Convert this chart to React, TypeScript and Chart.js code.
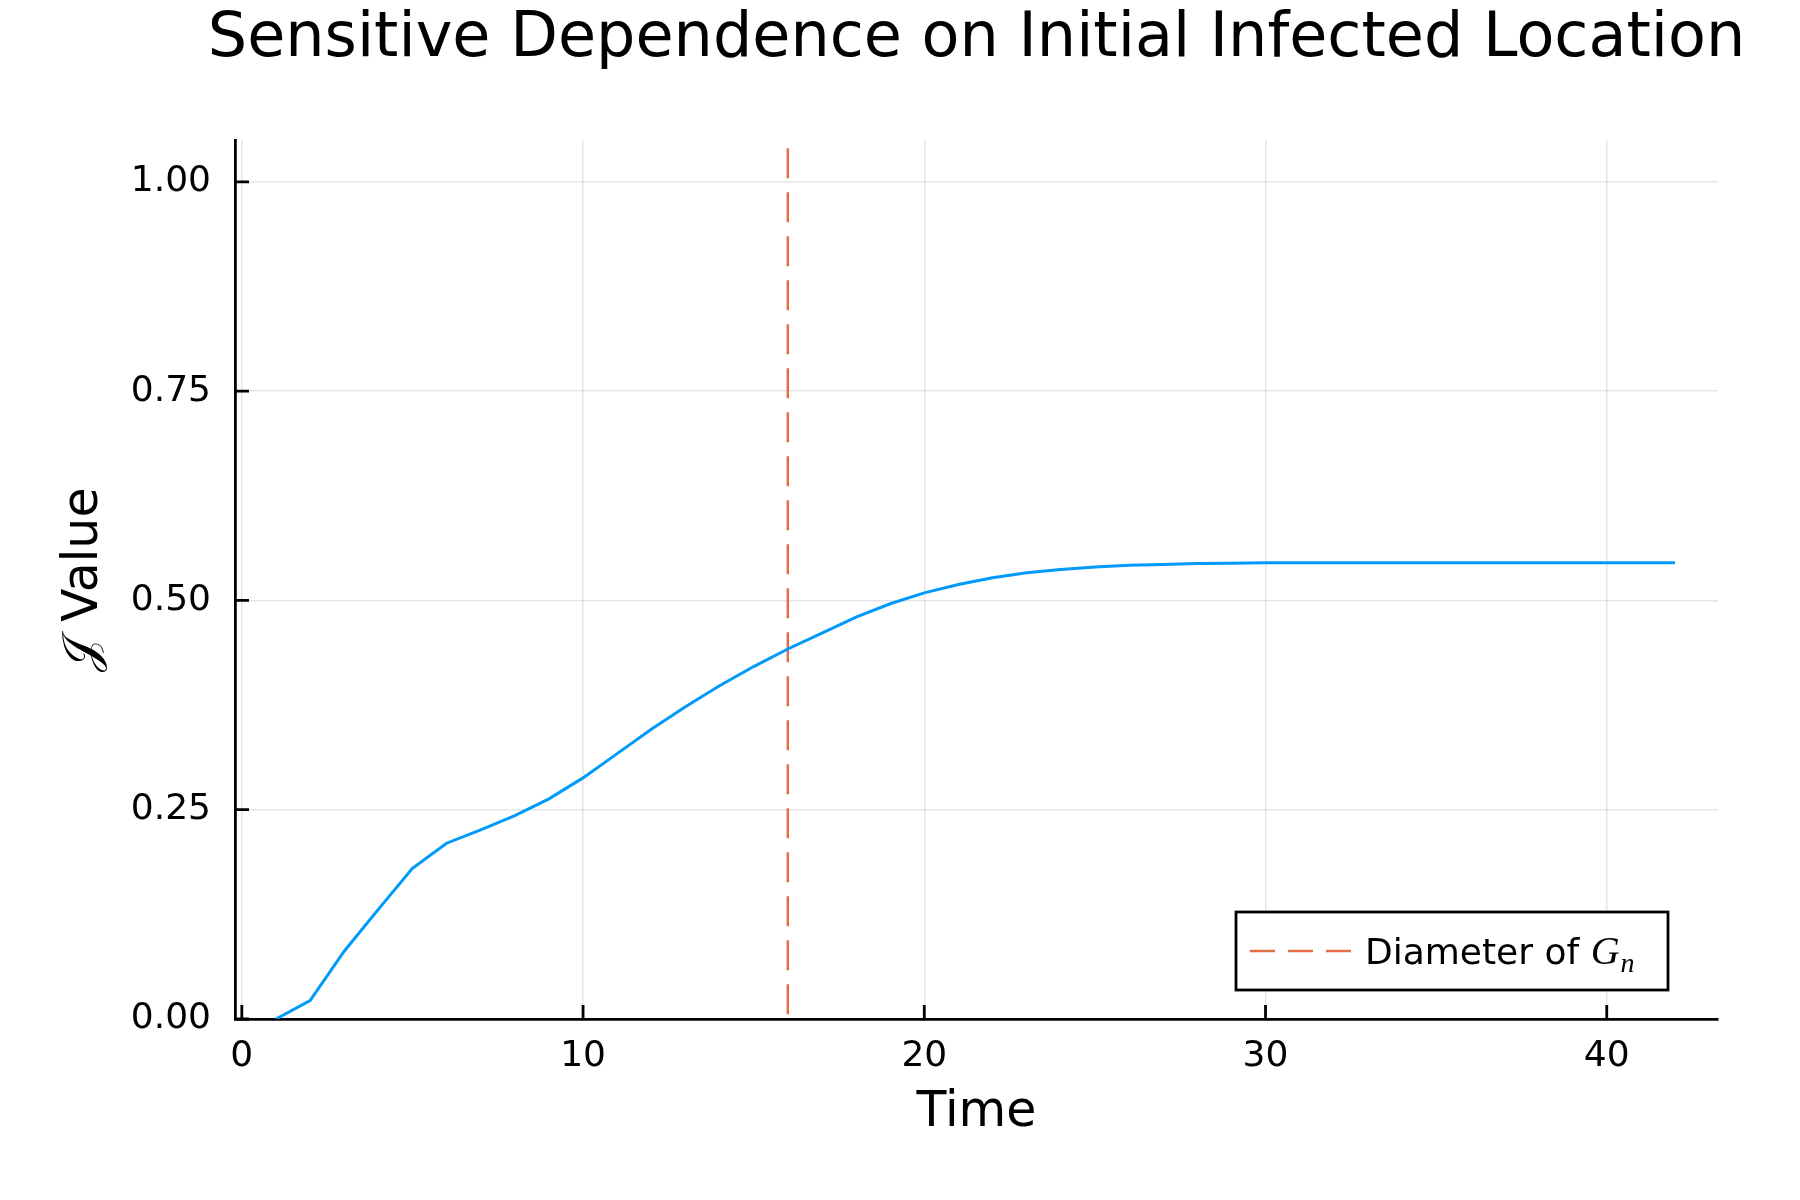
import React, { useEffect, useRef } from "react";
import { Chart, registerables } from "chart.js";

Chart.register(...registerables);

// ---- data ----
const timeSteps = [
  1, 2, 3, 4, 5, 6, 7, 8, 9, 10, 11, 12, 13, 14, 15, 16, 17, 18, 19, 20, 21,
  22, 23, 24, 25, 26, 27, 28, 29, 30, 31, 32, 33, 34, 35, 36, 37, 38, 39, 40,
  41, 42,
];
const jValues = [
  0.0, 0.022, 0.081, 0.131, 0.18, 0.21, 0.226, 0.243, 0.263, 0.288, 0.317,
  0.346, 0.373, 0.398, 0.421, 0.442, 0.461, 0.48, 0.496, 0.509, 0.519, 0.527,
  0.533, 0.537, 0.54, 0.542, 0.543, 0.544, 0.5445, 0.545, 0.545, 0.545, 0.545,
  0.545, 0.545, 0.545, 0.545, 0.545, 0.545, 0.545, 0.545, 0.545,
];
const diameterX = 16;
const diameterSpan = [1.04, 0];
const xTicks = [0, 10, 20, 30, 40];
const yTicks = [0, 0.25, 0.5, 0.75, 1.0];
const xRange = [-0.2, 43.26];
const yRange = [0, 1.05];

const titleText = "Sensitive Dependence on Initial Infected Location";
const xTitle = "Time";
const yTitle = "\u{1D4A5} Value";
const legendText = "Diameter of ";
const legendMath = "G";
const legendSub = "n";

const BLUE = "#009AFA";
const ORANGE = "#E26F46";
const FONT = '"DejaVu Sans", sans-serif';

const decorPlugin = {
  id: "decor",
  afterDraw(chart: any) {
    const { ctx, chartArea } = chart;
    const xs = chart.scales.x;
    const ys = chart.scales.y;
    ctx.save();
    // inward tick marks
    ctx.strokeStyle = "#000";
    ctx.lineWidth = 2.8;
    ctx.beginPath();
    xTicks.forEach((v) => {
      const px = xs.getPixelForValue(v);
      ctx.moveTo(px, chartArea.bottom);
      ctx.lineTo(px, chartArea.bottom - 14);
    });
    yTicks.forEach((v) => {
      const py = ys.getPixelForValue(v);
      ctx.moveTo(chartArea.left, py);
      ctx.lineTo(chartArea.left + 14, py);
    });
    ctx.stroke();

    // title
    ctx.fillStyle = "#000";
    ctx.font = `62px ${FONT}`;
    ctx.textAlign = "center";
    ctx.textBaseline = "alphabetic";
    ctx.fillText(titleText, (chartArea.left + chartArea.right) / 2, 56);

    // legend
    const bw = 432;
    const bh = 78;
    const bx = chartArea.right - 50 - bw;
    const by = chartArea.bottom - 29 - bh;
    ctx.fillStyle = "#fff";
    ctx.fillRect(bx, by, bw, bh);
    ctx.strokeStyle = "#000";
    ctx.lineWidth = 2.8;
    ctx.strokeRect(bx, by, bw, bh);
    const cy = by + bh / 2;
    ctx.strokeStyle = ORANGE;
    ctx.lineWidth = 2.5;
    ctx.setLineDash([25, 13]);
    ctx.beginPath();
    ctx.moveTo(bx + 14, cy);
    ctx.lineTo(bx + 116, cy);
    ctx.stroke();
    ctx.setLineDash([]);
    ctx.fillStyle = "#000";
    ctx.textAlign = "left";
    ctx.textBaseline = "alphabetic";
    ctx.font = `36px ${FONT}`;
    const base = cy + 13;
    let tx = bx + 129;
    ctx.fillText(legendText, tx, base);
    tx += ctx.measureText(legendText).width;
    ctx.font = 'italic 40px "Liberation Serif", serif';
    ctx.fillText(legendMath, tx, base);
    tx += ctx.measureText(legendMath).width + 1;
    ctx.font = 'italic 28px "Liberation Serif", serif';
    ctx.fillText(legendSub, tx, base + 8);
    ctx.restore();
  },
};

export default function App() {
  const ref = useRef<HTMLCanvasElement | null>(null);
  useEffect(() => {
    if (!ref.current) return;
    const chart = new Chart(ref.current, {
      type: "line",
      data: {
        datasets: [
          {
            label: "J",
            data: timeSteps.map((t, i) => ({ x: t, y: jValues[i] })),
            borderColor: BLUE,
            borderWidth: 3,
            pointRadius: 0,
            tension: 0,
            fill: false,
          },
          {
            label: legendText + legendMath + "_" + legendSub,
            data: diameterSpan.map((y) => ({ x: diameterX, y })),
            borderColor: ORANGE,
            borderWidth: 2.5,
            borderDash: [30, 14],
            pointRadius: 0,
            fill: false,
          },
        ],
      },
      options: {
        animation: false,
        responsive: false,
        devicePixelRatio: 1,
        layout: { padding: { left: 0, right: 82, top: 140, bottom: 0 } },
        plugins: {
          legend: { display: false },
          title: { display: false },
          tooltip: { enabled: false },
        },
        scales: {
          x: {
            type: "linear",
            min: xRange[0],
            max: xRange[1],
            afterBuildTicks: (s: any) => {
              s.ticks = xTicks.map((v) => ({ value: v }));
            },
            afterFit: (s: any) => {
              s.height = 181;
            },
            ticks: {
              color: "#000",
              font: { family: FONT, size: 36 },
              padding: 16,
              maxRotation: 0,
              callback: (v: any) => String(v),
            },
            grid: {
              color: "rgba(0,0,0,0.1)",
              lineWidth: 1.5,
              drawTicks: false,
            },
            border: { display: true, color: "#000", width: 2.8 },
            title: {
              display: true,
              text: xTitle,
              color: "#000",
              font: { family: FONT, size: 49 },
              padding: { top: 0, bottom: 57 },
            },
          },
          y: {
            type: "linear",
            min: yRange[0],
            max: yRange[1],
            afterBuildTicks: (s: any) => {
              s.ticks = yTicks.map((v) => ({ value: v }));
            },
            afterFit: (s: any) => {
              s.width = 235;
            },
            ticks: {
              color: "#000",
              font: { family: FONT, size: 36 },
              padding: 24,
              callback: (v: any) => Number(v).toFixed(2),
            },
            grid: {
              color: "rgba(0,0,0,0.1)",
              lineWidth: 1.5,
              drawTicks: false,
            },
            border: { display: true, color: "#000", width: 2.8 },
            title: {
              display: true,
              text: yTitle,
              color: "#000",
              font: { family: FONT, size: 49 },
              padding: { top: 55, bottom: 0 },
            },
          },
        },
      },
      plugins: [decorPlugin],
    } as any);
    return () => chart.destroy();
  }, []);
  return (
    <div style={{ position: "absolute", left: 0, top: 0, width: 1800, height: 1200, background: "#fff" }}>
      <canvas ref={ref} width={1800} height={1200} style={{ width: 1800, height: 1200 }} />
    </div>
  );
}
